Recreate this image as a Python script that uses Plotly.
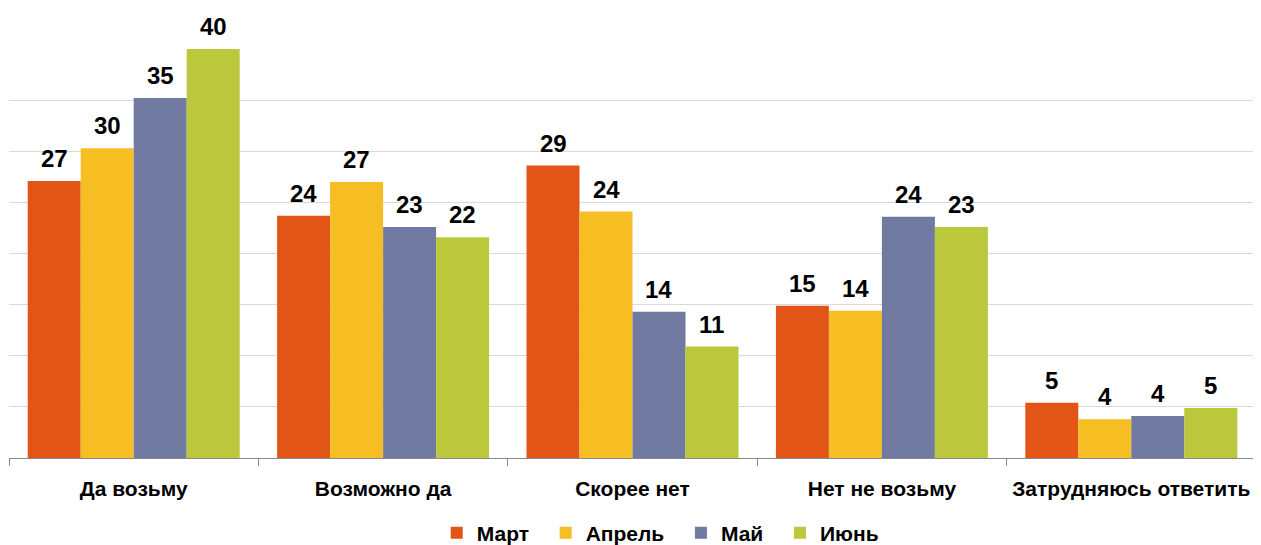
import plotly.graph_objects as go

categories = ["Да возьму", "Возможно да", "Скорее нет", "Нет не возьму", "Затрудняюсь ответить"]
series_names = ["Март", "Апрель", "Май", "Июнь"]
mart = [27.1, 23.7, 28.6, 14.9, 5.4]
aprel = [30.3, 27.0, 24.1, 14.4, 3.8]
mai = [35.2, 22.6, 14.3, 23.6, 4.1]
iyun = [40.0, 21.6, 10.9, 22.6, 4.9]
labels = [
    [27, 24, 29, 15, 5],
    [30, 27, 24, 14, 4],
    [35, 23, 14, 24, 4],
    [40, 22, 11, 23, 5],
]
colors = ["#E35417", "#F6BE22", "#717BA2", "#BCC83B"]

FONT = "Liberation Sans, Arial, sans-serif"
# the page body has an 8px margin, so the figure is sized to fit the window
W, H = 1253, 537
ML, MR, MT, MB = 1, 5, 41, 87
BARGAP = 0.15
LEGEND_PAD = "\u00a0\u00a0"

fig = go.Figure()
series_vals = [mart, aprel, mai, iyun]
for name, vals, col in zip(series_names, series_vals, colors):
    fig.add_trace(go.Bar(
        x=categories, y=vals, name=name + LEGEND_PAD,
        marker=dict(color=col, line=dict(width=0)),
        hoverinfo="skip",
    ))

# value labels above bars
plot_w = W - ML - MR
bar_px = plot_w / len(categories) * (1 - BARGAP) / len(series_names)
n = len(series_names)
for i, (vals, lab) in enumerate(zip(series_vals, labels)):
    shift = (i - (n - 1) / 2) * bar_px
    for c, v, t in zip(categories, vals, lab):
        fig.add_annotation(
            x=c, y=v, text=str(t), showarrow=False, xshift=shift, yshift=7,
            xanchor="center", yanchor="bottom",
            font=dict(family=FONT, size=24, color="#000000", weight="bold"),
        )

fig.update_layout(
    width=W, height=H,
    margin=dict(l=ML, r=MR, t=MT, b=MB),
    paper_bgcolor="white", plot_bgcolor="white",
    barmode="group", bargap=BARGAP, bargroupgap=0,
    font=dict(family=FONT, size=21, color="#000000", weight="bold"),
    showlegend=True,
    legend=dict(orientation="h", x=0.343, xanchor="left", yref="container", y=12 / H,
                yanchor="middle",
                font=dict(family=FONT, size=21, color="#000000", weight="bold"),
                itemwidth=30, tracegroupgap=0),
    xaxis=dict(
        automargin=False,
        showline=True, linecolor="#898989", linewidth=1,
        ticks="outside", tickson="boundaries", ticklen=7, tickcolor="#898989",
        tickfont=dict(family=FONT, size=21, color="#000000", weight="bold"),
        ticklabelstandoff=12,
        showgrid=False,
    ),
    yaxis=dict(
        automargin=False,
        range=[0, 40], dtick=5, showticklabels=False, showgrid=True,
        gridcolor="#D9D9D9", gridwidth=1, zeroline=False, showline=False,
    ),
)

fig.write_html("out.html")
